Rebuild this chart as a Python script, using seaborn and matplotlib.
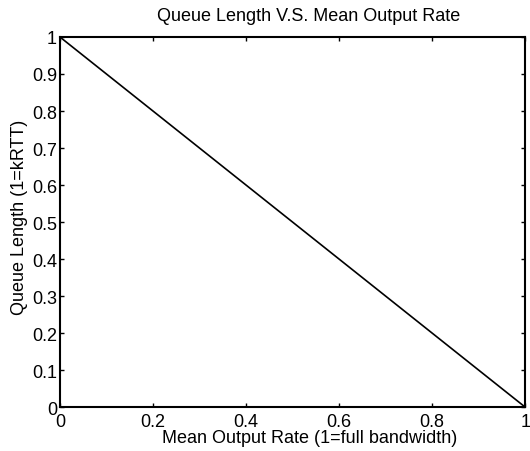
import matplotlib
matplotlib.use("Agg")
import matplotlib.pyplot as plt
import seaborn as sns
import pandas as pd

# values
output_rate = [0.0, 0.2, 0.4, 0.6, 0.8, 1.0]
queue_length = [1.0, 0.8, 0.6, 0.4, 0.2, 0.0]
x_ticks = [0, 0.2, 0.4, 0.6, 0.8, 1]
x_labels = ["0", "0.2", "0.4", "0.6", "0.8", "1"]
y_ticks = [0, 0.1, 0.2, 0.3, 0.4, 0.5, 0.6, 0.7, 0.8, 0.9, 1]
y_labels = ["0", "0.1", "0.2", "0.3", "0.4", "0.5", "0.6", "0.7", "0.8", "0.9", "1"]

sns.set_style("ticks")
plt.rcParams["font.family"] = ["Liberation Sans", "DejaVu Sans"]
plt.rcParams["text.color"] = "black"
plt.rcParams["axes.labelcolor"] = "black"

df = pd.DataFrame({"rate": output_rate, "queue": queue_length})

fig = plt.figure(figsize=(5.3, 4.52), dpi=100)
ax = fig.add_axes([0.113, 0.097, 0.878, 0.819])
sns.lineplot(data=df, x="rate", y="queue", color="black", linewidth=1.2, ax=ax)

ax.set_xlim(0, 1)
ax.set_ylim(0, 1)
ax.set_xticks(x_ticks)
ax.set_xticklabels(x_labels)
ax.set_yticks(y_ticks)
ax.set_yticklabels(y_labels)
ax.tick_params(direction="in", length=3, width=1, labelsize=13, colors="black",
               top=True, right=True)
ax.tick_params(axis="x", pad=4)
ax.tick_params(axis="y", pad=2)
for s in ax.spines.values():
    s.set_linewidth(1.5)
    s.set_color("black")

ax.set_title("Queue Length V.S. Mean Output Rate", fontsize=13, pad=12, x=0.535, color="black")
ax.set_xlabel("Mean Output Rate (1=full bandwidth)", fontsize=13, color="black")
ax.xaxis.set_label_coords(0.537, -0.06)
ax.set_ylabel("Queue Length (1=kRTT)", fontsize=13, color="black")
ax.yaxis.set_label_coords(-0.068, 0.516)

fig.savefig("out.png", dpi=100)
